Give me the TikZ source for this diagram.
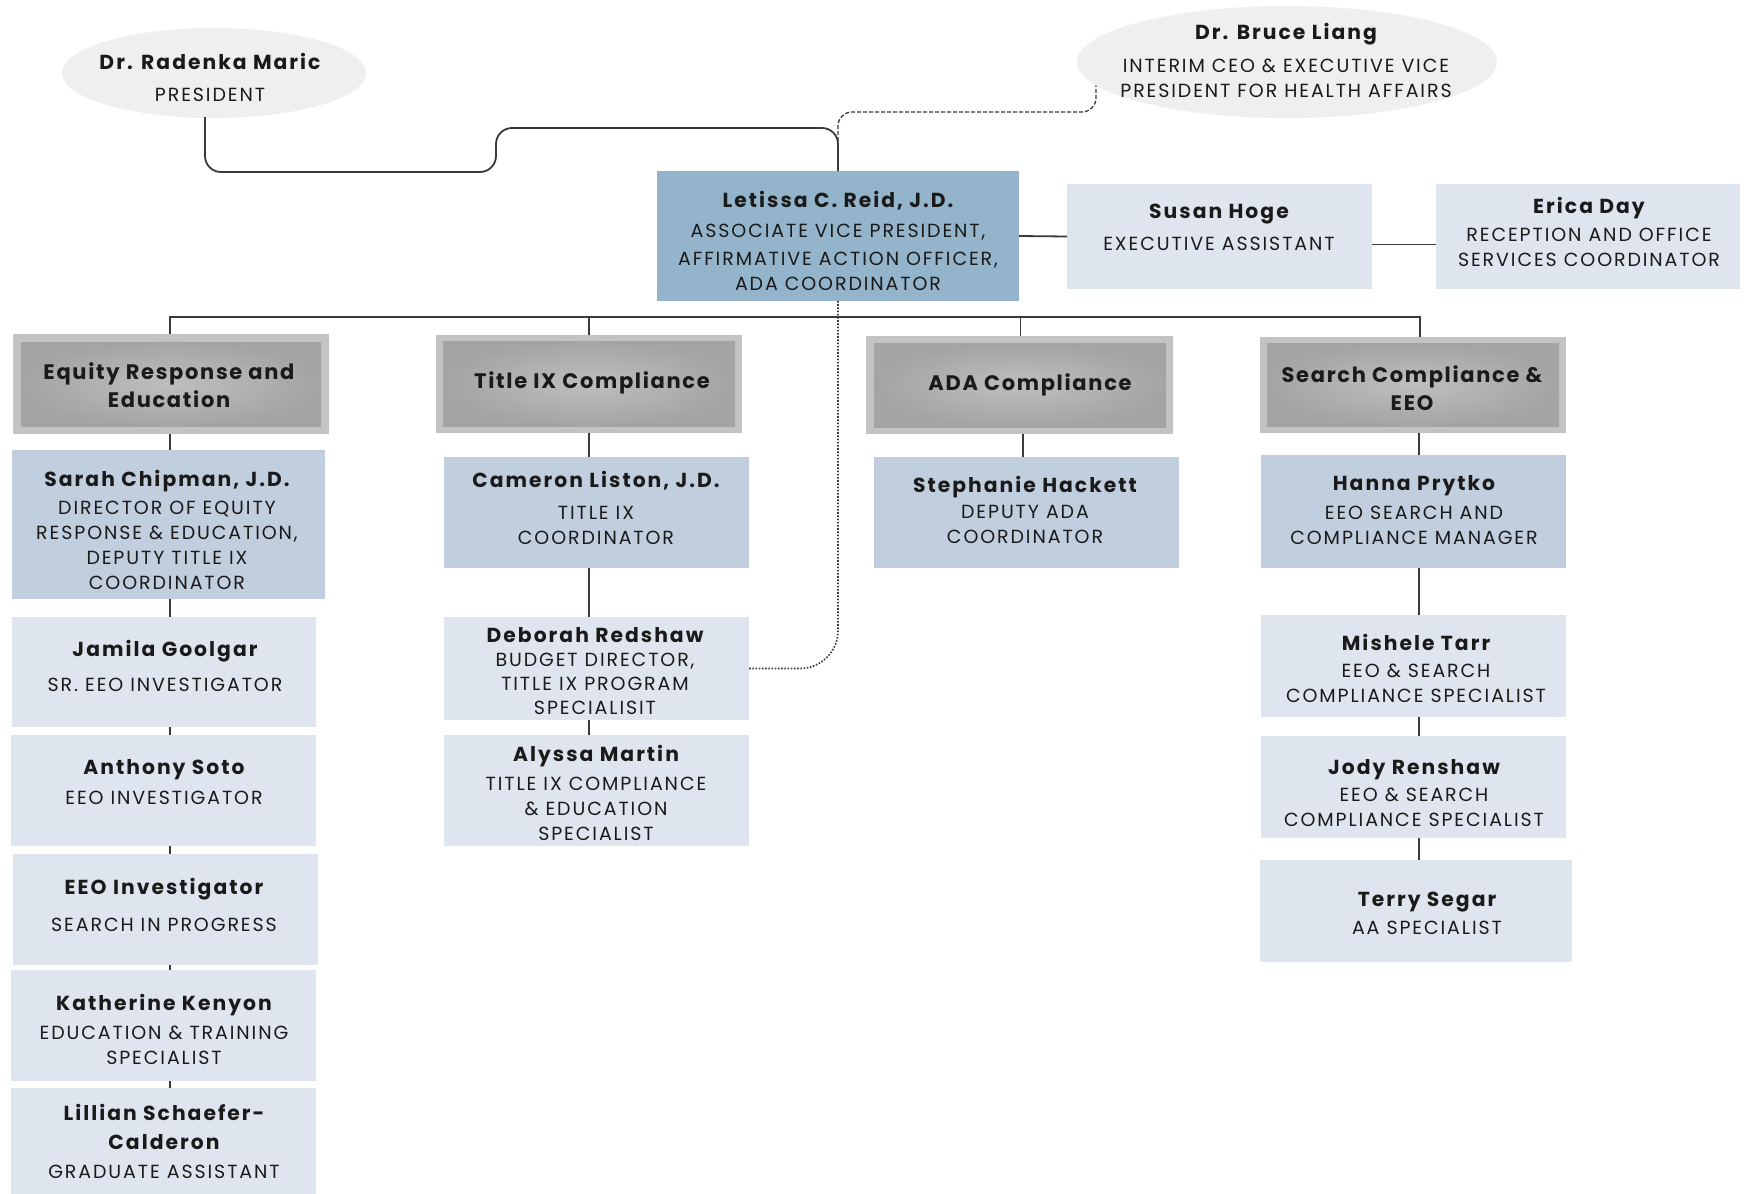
\documentclass[tikz,border=0pt]{standalone}
\usepackage{fontspec}
\setmainfont{Poppins}
\newfontfamily\subfam{Poppins}[LetterSpace=10]
\newfontfamily\namefam{Poppins}[LetterSpace=10]
\newfontfamily\headfam{Poppins}[LetterSpace=8]
\usetikzlibrary{shapes.geometric}
\definecolor{lc}{HTML}{3A3A3A}
\definecolor{cmain}{HTML}{93B4CB}
\definecolor{cmid}{HTML}{C1CEDE}
\definecolor{clight}{HTML}{DFE5EE}
\definecolor{cell}{HTML}{EFEFEF}
\definecolor{hout}{HTML}{C4C3C4}
\definecolor{hgi}{HTML}{BEBEBE}
\definecolor{hgo}{HTML}{A4A4A4}
\definecolor{tc}{HTML}{1A1A1A}
\newcommand\nm[1]{{\namefam\fontsize{20.3}{25}\selectfont\bfseries #1}}
\newcommand\bx[6]{\node[#2, inner sep=0pt, outer sep=0pt, minimum width={(#5-#3)*1pt}, minimum height={(#6-#4)*1pt}] (#1) at ({(#3+#5)/2},{(#4+#6)/2}) {};}
\newcommand\tx[4]{\node[txt] (#1) at (#2,#3) {#4};}
\begin{document}
\begin{tikzpicture}[x=1pt,y=-1pt,
  txt/.style={align=center, inner sep=0pt, text=tc, font=\subfam\fontsize{19}{25}\selectfont},
  htxt/.style={align=center, inner sep=0pt, text=tc, font=\headfam\fontsize{21}{28}\selectfont\bfseries},
  mainbox/.style={fill=cmain},
  midbox/.style={fill=cmid},
  lightbox/.style={fill=clight},
  hframe/.style={fill=hout},
  hinner/.style={shading=radial, inner color=hgi, outer color=hgo},
  oval/.style={ellipse, fill=cell, inner sep=0pt},
  line/.style={draw=lc, line width=1.8pt},
  dashline/.style={draw=lc, line width=1.3pt, dash pattern=on 4pt off 2pt},
  dotline/.style={draw=lc, line width=1.6pt, dash pattern=on 1.6pt off 1.6pt}]
\useasboundingbox (0,0) rectangle (1746,1194);
\fill[white] (0,0) rectangle (1746,1194);

% ovals
\node[oval, minimum width=304pt, minimum height=90pt] (maric) at (214,73) {};
\node[oval, minimum width=420pt, minimum height=112pt] (liang) at (1287,62) {};

% top row
\bx{letissa}{mainbox}{657}{171}{1019}{301}
\bx{susan}{lightbox}{1067}{184}{1372}{289}
\bx{erica}{lightbox}{1436}{184}{1740}{289}

% headers
\bx{h1o}{hframe}{13}{334}{329}{434}
\bx{h1}{hinner}{21}{342}{321}{426}
\bx{h2o}{hframe}{436}{335}{742}{433}
\bx{h2}{hinner}{443}{341}{735}{426}
\bx{h3o}{hframe}{866}{336}{1173}{434}
\bx{h3}{hinner}{874}{343}{1166}{427}
\bx{h4o}{hframe}{1260}{337}{1566}{433}
\bx{h4}{hinner}{1267}{343}{1559}{426}

% column 1
\bx{sarah}{midbox}{12}{450}{325}{599}
\bx{jamila}{lightbox}{12}{617}{316}{727}
\bx{anthony}{lightbox}{11}{735}{316}{846}
\bx{eeo}{lightbox}{13}{854}{318}{965}
\bx{katherine}{lightbox}{11}{970}{316}{1081}
\bx{lillian}{lightbox}{11}{1088}{316}{1194}
% column 2
\bx{cameron}{midbox}{444}{457}{749}{568}
\bx{deborah}{lightbox}{444}{617}{749}{720}
\bx{alyssa}{lightbox}{444}{735}{749}{846}
% column 3
\bx{stephanie}{midbox}{874}{457}{1179}{568}
% column 4
\bx{hanna}{midbox}{1261}{455}{1566}{568}
\bx{mishele}{lightbox}{1261}{615}{1566}{717}
\bx{jody}{lightbox}{1261}{736}{1566}{838}
\bx{terry}{lightbox}{1260}{860}{1572}{962}

% connectors
\coordinate (c1) at (170,0);
\coordinate (c2) at (589,0);
\coordinate (c3) at (1023,0);
\coordinate (c4) at (1419,0);
\coordinate (bus) at (838,317);

\draw[line, rounded corners=16pt] ([xshift=-9pt,yshift=1pt]maric.south) -- (205,172) -- (496,172) -- (496,128) -- (838,128) -- (letissa.north);
\draw[dashline, rounded corners=14pt] (letissa.north) -- (838,112) -| (liang.187);
\draw[line] (letissa.east) -- (susan.west);
\draw[line] ([yshift=-8pt]susan.east) -- ([yshift=-8pt]erica.west);

\draw[line] ([xshift=-1pt]h1o.north) |- (bus) -| ([xshift=7pt]h4o.north);
\draw[line] (h2o.north) -- (h2o.north |- bus);
\draw[line] ([xshift=1pt]h3o.north) -- ([xshift=1pt]h3o.north |- bus);
\draw[dotline, rounded corners=38pt] (letissa.south) |- (deborah.east);

\draw[line] (h1o.south -| c1) -- (sarah.north -| c1);
\draw[line] (sarah.south -| c1) -- (jamila.north -| c1);
\draw[line] (jamila.south -| c1) -- (anthony.north -| c1);
\draw[line] (anthony.south -| c1) -- (eeo.north -| c1);
\draw[line] (eeo.south -| c1) -- (katherine.north -| c1);
\draw[line] (katherine.south -| c1) -- (lillian.north -| c1);
\draw[line] (h2o.south -| c2) -- (cameron.north -| c2);
\draw[line] (cameron.south -| c2) -- (deborah.north -| c2);
\draw[line] (deborah.south -| c2) -- (alyssa.north -| c2);
\draw[line] (h3o.south -| c3) -- (stephanie.north -| c3);
\draw[line] (h4o.south -| c4) -- (hanna.north -| c4);
\draw[line] (hanna.south -| c4) -- (mishele.north -| c4);
\draw[line] (mishele.south -| c4) -- (jody.north -| c4);
\draw[line] (jody.south -| c4) -- (terry.north -| c4);

% texts
\tx{t-maric}{210}{77}{\nm{Dr. Radenka Maric}\\[7pt]PRESIDENT}
\tx{t-liang}{1286}{60}{\nm{Dr. Bruce Liang}\\[8pt]INTERIM CEO \& EXECUTIVE VICE\\PRESIDENT FOR HEALTH AFFAIRS}
\tx{t-letissa}{838}{241}{\nm{Letissa C. Reid, J.D.}\\[5pt]ASSOCIATE VICE PRESIDENT,\\[3pt]AFFIRMATIVE ACTION OFFICER,\\ADA COORDINATOR}
\tx{t-susan}{1219}{227}{\nm{Susan Hoge}\\[7pt]EXECUTIVE ASSISTANT}
\tx{t-erica}{1589}{232}{\nm{Erica Day}\\[3pt]RECEPTION AND OFFICE\\SERVICES COORDINATOR}

\node[htxt] (t-h1) at (169,385) {Equity Response and\\Education};
\node[htxt] (t-h2) at (592,383) {Title IX Compliance};
\node[htxt] (t-h3) at (1030,385) {ADA Compliance};
\node[htxt] (t-h4) at (1412,388) {Search Compliance \&\\EEO};

\tx{t-sarah}{167}{530}{\nm{Sarah Chipman, J.D.}\\[3pt]DIRECTOR OF EQUITY\\RESPONSE \& EDUCATION,\\DEPUTY TITLE IX\\COORDINATOR}
\tx{t-jamila}{165}{666}{\nm{Jamila Goolgar}\\[10pt]SR. EEO INVESTIGATOR}
\tx{t-anthony}{164}{782}{\nm{Anthony Soto}\\[5pt]EEO INVESTIGATOR}
\tx{t-eeo}{164}{905}{\nm{EEO Investigator}\\[12pt]SEARCH IN PROGRESS}
\tx{t-katherine}{164}{1029}{\nm{Katherine Kenyon}\\[4pt]EDUCATION \& TRAINING\\SPECIALIST}
\tx{t-lillian}{164}{1141}{\nm{Lillian Schaefer-}\\[4pt]\nm{Calderon}\\[4pt]GRADUATE ASSISTANT}

\tx{t-cameron}{596}{508}{\nm{Cameron Liston, J.D.}\\[7pt]TITLE IX\\COORDINATOR}
\tx{t-deborah}{595}{671}{\nm{Deborah Redshaw}\\[-1pt]BUDGET DIRECTOR,\\[-1pt]TITLE IX PROGRAM\\[-1pt]SPECIALISIT}
\tx{t-alyssa}{596}{793}{\nm{Alyssa Martin}\\[4pt]TITLE IX COMPLIANCE\\\& EDUCATION\\SPECIALIST}

\tx{t-stephanie}{1025}{510}{\nm{Stephanie Hackett}\\[1pt]DEPUTY ADA\\COORDINATOR}
\tx{t-hanna}{1414}{510}{\nm{Hanna Prytko}\\[4pt]EEO SEARCH AND\\COMPLIANCE MANAGER}
\tx{t-mishele}{1416}{668}{\nm{Mishele Tarr}\\[2pt]EEO \& SEARCH\\COMPLIANCE SPECIALIST}
\tx{t-jody}{1414}{793}{\nm{Jody Renshaw}\\[2pt]EEO \& SEARCH\\COMPLIANCE SPECIALIST}
\tx{t-terry}{1427}{913}{\nm{Terry Segar}\\[3pt]AA SPECIALIST}
\end{tikzpicture}
\end{document}
